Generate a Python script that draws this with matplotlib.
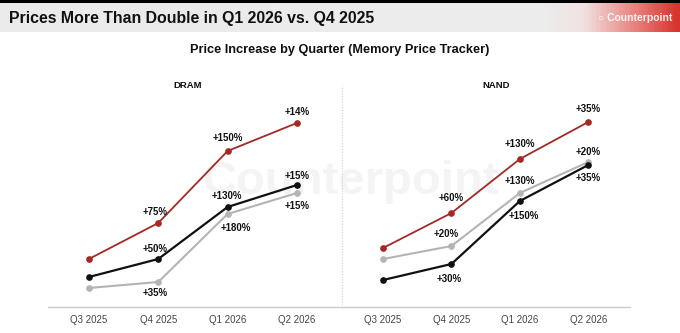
import numpy as np
import matplotlib.pyplot as plt
from matplotlib.colors import LinearSegmentedColormap

plt.rcParams.update({
	"font.family": ["Liberation Sans", "DejaVu Sans"],
})

QUARTERS = ["Q3 2025", "Q4 2025", "Q1 2026", "Q2 2026"]

# price index levels (arbitrary units, baseline = 0)
dram_red = [48, 84, 156, 184]
dram_black = [30, 48, 100, 122]
dram_gray = [19, 25, 93, 114]

nand_red = [59, 94, 148, 185]
nand_gray = [48, 61, 114, 145]
nand_black = [27, 43, 106, 142]

# quarter-on-quarter labels (first quarter has none)
dram_red_lbl = ["", "+75%", "+150%", "+14%"]
dram_black_lbl = ["", "+50%", "+130%", "+15%"]
dram_gray_lbl = ["", "+35%", "+180%", "+15%"]

nand_red_lbl = ["", "+60%", "+130%", "+35%"]
nand_gray_lbl = ["", "+20%", "+130%", "+20%"]
nand_black_lbl = ["", "+30%", "+150%", "+35%"]

# label offsets from the marker, in pixels (dx, dy up)
dram_red_off = [None, (-3, 11), (0, 13), (0, 11)]
dram_black_off = [None, (-3, 10), (-1, 11), (0, 9)]
dram_gray_off = [None, (-3, -11), (8, -14), (0, -13)]

nand_red_off = [None, (0, 15), (0, 15), (0, 13)]
nand_gray_off = [None, (-5, 12), (0, 12), (0, 10)]
nand_black_off = [None, (-2, -15), (4, -15), (0, -13)]

RED = "#a32a24"
BLACK = "#111111"
GRAY = "#b4b4b4"

W, H = 680, 333
fig = plt.figure(figsize=(W/100, H/100), dpi=100)
fig.patch.set_facecolor("white")


def frac(x0, y0, x1, y1):
	# pixel box (top-left origin) -> figure fraction rect
	return [x0/W, 1 - y1/H, (x1-x0)/W, (y1-y0)/H]


# header band: gray with red fade on the right
hdr = fig.add_axes(frac(0, 3, W, 32))
cmap = LinearSegmentedColormap.from_list("hdr", [
	(0.0, "#ebebeb"), (0.80, "#ededed"), (0.86, "#f1e2e2"), (0.93, "#e98a86"), (1.0, "#d8332c")
])
hdr.imshow(np.linspace(0, 1, 400)[None, :], aspect="auto", cmap=cmap, extent=[0, 1, 0, 1])
hdr.set_axis_off()
top = fig.add_axes(frac(0, 0, W, 3))
top.set_facecolor("black")
top.set_xticks([])
top.set_yticks([])
for s in top.spines.values():
	s.set_visible(False)

fig.text(9/W, 1 - 18/H, "Prices More Than Double in Q1 2026 vs. Q4 2025",
	fontsize=11.4, fontweight="bold", color="#111111", va="center", ha="left")
fig.text(672/W, 1 - 18/H, "\u25cb Counterpoint", fontsize=7.5, fontweight="bold",
	color="white", va="center", ha="right", alpha=0.9)

fig.text(340/W, 1 - 50/H, "Price Increase by Quarter (Memory Price Tracker)",
	fontsize=9.2, fontweight="bold", color="#111111", ha="center", va="center")

# faint watermark, behind everything
bg = fig.add_axes([0, 0, 1, 1], zorder=-5)
bg.set_axis_off()
bg.text(350/W, 1 - 182/H, "Counterpoint", fontsize=34, fontweight="bold",
	color="#f4f4f4", ha="center", va="center", transform=bg.transAxes)

x = np.arange(4)
YTOP = 217


def panel(rect, xlim, title, tx, series):
	ax = fig.add_axes(rect)
	ax.set_facecolor("none")
	for ys, lbls, offs, color, lw in series:
		ax.plot(x, ys, color=color, lw=lw, marker="o", markersize=3.8, zorder=3)
		for xi, yi, lb, off in zip(x, ys, lbls, offs):
			if not lb:
				continue
			ax.annotate(lb, (xi, yi), xytext=(off[0]*0.72, off[1]*0.72), textcoords="offset points",
				ha="center", va="center", fontsize=7, fontweight="bold", color="#111111")
	ax.set_xlim(*xlim)
	ax.set_ylim(0, YTOP)
	ax.set_yticks([])
	ax.set_xticks(x)
	ax.set_xticklabels(QUARTERS, fontsize=7, color="#444444")
	ax.tick_params(axis="x", length=0, pad=6)
	for s in ["top", "right", "left"]:
		ax.spines[s].set_visible(False)
	ax.spines["bottom"].set_color("#cccccc")
	ax.spines["bottom"].set_linewidth(1.0)
	fig.text(tx/W, 1 - 85/H, title, fontsize=6.8, fontweight="bold",
		color="#111111", ha="center", va="center")
	return ax


panel(frac(48, 90, 342, 307), (-0.59, 3.65), "DRAM", 188, [
	(dram_red, dram_red_lbl, dram_red_off, RED, 1.3),
	(dram_black, dram_black_lbl, dram_black_off, BLACK, 1.6),
	(dram_gray, dram_gray_lbl, dram_gray_off, GRAY, 1.5),
])
panel(frac(342, 90, 630, 307), (-0.60, 3.61), "NAND", 496, [
	(nand_red, nand_red_lbl, nand_red_off, RED, 1.3),
	(nand_gray, nand_gray_lbl, nand_gray_off, GRAY, 1.5),
	(nand_black, nand_black_lbl, nand_black_off, BLACK, 1.6),
])

# dotted separator between the panels
sep = fig.add_axes(frac(341, 85, 343, 305))
sep.axvline(0.5, color="#cfcfcf", lw=0.8, ls=(0, (1, 1.5)))
sep.set_xlim(0, 1)
sep.set_axis_off()

plt.savefig("out.png", dpi=100)
plt.close()
